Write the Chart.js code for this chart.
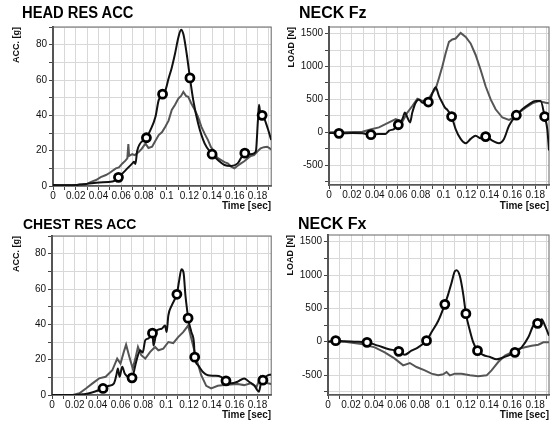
<!DOCTYPE html>
<html>
<head>
<meta charset="utf-8">
<script src="https://cdn.jsdelivr.net/npm/chart.js@4"></script>
<style>
body{margin:0;background:#fff;width:556px;height:425px;position:relative;overflow:hidden;font-family:"Liberation Sans",Arial,sans-serif}
canvas{position:absolute}
.ttl{position:absolute;font-weight:bold;font-size:16px;line-height:16px;color:#000;white-space:nowrap;transform-origin:0 50%}
</style>
</head>
<body>
<canvas id="head" width="278" height="212" style="left:0;top:0"></canvas>
<canvas id="neckFz" width="278" height="212" style="left:278px;top:0"></canvas>
<canvas id="chest" width="278" height="213" style="left:0;top:212px"></canvas>
<canvas id="neckFx" width="278" height="213" style="left:278px;top:212px"></canvas>
<div class="ttl" style="left:22px;top:5px;transform:scaleX(0.92)">HEAD RES ACC</div>
<div class="ttl" style="left:299px;top:5px">NECK Fz</div>
<div class="ttl" style="left:23px;top:216px;font-size:15px;transform:scaleX(0.93)">CHEST RES ACC</div>
<div class="ttl" style="left:298px;top:216px">NECK Fx</div>
<script>
// [time (s), value]
const headBlack = [[0,0.5],[0.012,0.4],[0.0206,0.5],[0.0235,0.8],[0.03,1.2],[0.0408,2.0],[0.0524,2.5],[0.0576,4.9],[0.064,9],[0.0698,12.8],[0.0713,13.7],[0.0725,12.5],[0.0741,20],[0.0822,27.3],[0.0857,31.6],[0.0901,39],[0.093,48.6],[0.0964,52],[0.0988,54],[0.1017,60.8],[0.1045,67],[0.1074,75],[0.1103,84],[0.1127,88.5],[0.1147,86],[0.1176,75],[0.1205,61.2],[0.1234,48.6],[0.1277,35.4],[0.1335,24],[0.140,18],[0.1451,14.7],[0.1509,11.9],[0.1567,11.3],[0.1625,12.8],[0.1688,18.6],[0.174,18],[0.1784,19.4],[0.1804,38],[0.1813,46],[0.1827,40],[0.184,40],[0.1885,33.5],[0.192,26]];
const headGray = [[0,0.5],[0.012,0.5],[0.0206,0.6],[0.0293,1.1],[0.034,2.5],[0.0379,3.4],[0.042,5.0],[0.0466,6.2],[0.05,7.5],[0.0553,10],[0.058,10.5],[0.0611,12.8],[0.0635,14.2],[0.0654,15.6],[0.0663,23.7],[0.067,17],[0.0698,18],[0.072,17.5],[0.0756,19.4],[0.078,21],[0.0814,24],[0.084,21.5],[0.0872,22.2],[0.09,25.5],[0.093,28.8],[0.096,30.5],[0.0988,33.5],[0.1017,37],[0.1045,43],[0.1074,46],[0.1103,49.5],[0.1127,51],[0.1147,53.3],[0.117,51],[0.119,50.5],[0.1215,47],[0.1248,43],[0.1277,39],[0.1306,33.5],[0.1335,29.5],[0.1364,26],[0.139,22],[0.1422,19.4],[0.1445,16],[0.148,14.7],[0.1509,13.5],[0.1538,12.8],[0.1567,11],[0.1596,10],[0.1625,11.5],[0.1654,12.8],[0.1683,14],[0.1712,15.6],[0.174,17],[0.1769,17.5],[0.1798,19.5],[0.1827,21.3],[0.1856,22],[0.1885,22.2],[0.192,20.7]];
const headMarks = [[0.0576,4.9],[0.0822,27.3],[0.0964,52],[0.1205,61.2],[0.140,18],[0.1688,18.6],[0.184,40]];

const neckFzBlack = [[0,-10],[0.0087,-15],[0.0204,-10],[0.0291,-15],[0.0366,-35],[0.0436,-25],[0.0494,-25],[0.0524,25],[0.0567,50],[0.0605,115],[0.064,200],[0.0663,300],[0.0684,225],[0.0707,150],[0.0727,300],[0.0756,450],[0.0785,500],[0.0814,450],[0.0867,460],[0.0931,685],[0.096,550],[0.0989,450],[0.1012,375],[0.1033,340],[0.107,240],[0.1105,50],[0.1149,-100],[0.1193,-165],[0.1236,-100],[0.128,-50],[0.1323,-90],[0.1367,-65],[0.1425,-125],[0.1483,-165],[0.1527,-100],[0.1571,100],[0.1635,260],[0.1687,350],[0.1745,425],[0.1803,475],[0.1847,475],[0.1882,240],[0.1905,50],[0.192,-275]];
const neckFzGray = [[0,0],[0.0145,0],[0.0291,10],[0.0378,50],[0.0436,75],[0.0524,150],[0.0582,200],[0.064,160],[0.0684,300],[0.0727,400],[0.0771,510],[0.0814,475],[0.0858,480],[0.0902,600],[0.0931,660],[0.096,825],[0.0989,1000],[0.1018,1200],[0.1047,1375],[0.1076,1410],[0.1105,1425],[0.1149,1510],[0.1193,1450],[0.1236,1350],[0.128,1175],[0.1323,950],[0.1367,700],[0.1411,500],[0.1454,350],[0.1513,225],[0.1571,190],[0.1614,225],[0.1658,300],[0.1716,375],[0.1774,440],[0.1832,475],[0.1891,450],[0.192,440]];
const neckFzMarks = [[0.0087,-15],[0.0366,-35],[0.0605,115],[0.0867,460],[0.107,240],[0.1367,-65],[0.1635,260],[0.1882,240]];

const chestBlack = [[0,0],[0.0211,0],[0.0268,0.4],[0.0326,1],[0.0447,3.7],[0.0499,5.2],[0.0543,6.6],[0.0563,11],[0.0577,15],[0.0592,10.3],[0.0615,16],[0.0638,12],[0.0701,9.7],[0.073,16.9],[0.0753,22.5],[0.0773,25.3],[0.0794,24],[0.0817,31],[0.0846,32],[0.088,35],[0.0889,28],[0.0918,36.5],[0.0961,37.5],[0.099,39.3],[0.1004,35.6],[0.1019,45],[0.1048,50.6],[0.1076,54.3],[0.1094,57],[0.1111,63.7],[0.1134,71.2],[0.1152,69.3],[0.1169,56.2],[0.1186,46.8],[0.1192,43.5],[0.1221,35.6],[0.1244,29],[0.125,21.4],[0.1279,16.9],[0.1322,13],[0.1365,11.2],[0.1423,10.9],[0.148,10.3],[0.1524,8],[0.1567,6.6],[0.1625,7.5],[0.1683,9.4],[0.1726,7.5],[0.1769,5.6],[0.1812,1.9],[0.1833,7.5],[0.1847,8.4],[0.1884,10.9],[0.192,11.6]];
const chestGray = [[0,0],[0.0182,0],[0.024,1],[0.0297,3.7],[0.0355,6.6],[0.0413,9.4],[0.047,10.3],[0.0528,14],[0.0571,20.6],[0.06,17.8],[0.0629,24.4],[0.0649,28.5],[0.0678,21.5],[0.0707,15],[0.073,20.6],[0.0753,27.2],[0.0782,22.5],[0.0817,20.6],[0.086,24.4],[0.0903,27.2],[0.0932,25.3],[0.0975,26.2],[0.1019,30],[0.1062,29.4],[0.1105,32.8],[0.1149,35.6],[0.1192,39.3],[0.1221,31.8],[0.1264,20.6],[0.1307,11.2],[0.1351,5.2],[0.1394,3.7],[0.1452,5.2],[0.1509,5.6],[0.1567,6],[0.1625,6.2],[0.1683,5.6],[0.174,6.6],[0.1792,4.7],[0.1827,10.3],[0.1855,7.1],[0.192,6.2]];
const chestMarks = [[0.0447,3.7],[0.0701,9.7],[0.088,35],[0.1094,57],[0.1192,43.5],[0.125,21.4],[0.1524,8],[0.1847,8.4]];

const neckFxBlack = [[0,0],[0.0067,15],[0.0145,5],[0.0232,0],[0.0339,-10],[0.0435,-60],[0.0522,-110],[0.0615,-145],[0.0667,-195],[0.0725,-135],[0.0783,-85],[0.0856,15],[0.0899,140],[0.0957,310],[0.1015,560],[0.1044,710],[0.1073,880],[0.1102,1055],[0.1117,1070],[0.1146,980],[0.1175,710],[0.1198,420],[0.1233,165],[0.1262,-10],[0.1299,-135],[0.1349,-200],[0.1407,-230],[0.1465,-265],[0.1508,-245],[0.1566,-210],[0.1624,-160],[0.1682,-85],[0.174,65],[0.1784,240],[0.1821,275],[0.1856,335],[0.1885,240],[0.192,90]];
const neckFxGray = [[0,0],[0.0145,0],[0.029,-35],[0.0406,-85],[0.0493,-160],[0.058,-255],[0.0653,-355],[0.0711,-320],[0.0769,-380],[0.0841,-430],[0.0899,-480],[0.0957,-505],[0.1001,-490],[0.103,-455],[0.1059,-505],[0.1102,-480],[0.116,-480],[0.1233,-505],[0.1305,-520],[0.1378,-505],[0.1421,-430],[0.1479,-305],[0.1537,-210],[0.1595,-160],[0.1653,-110],[0.1711,-85],[0.1769,-60],[0.1827,-45],[0.1871,-10],[0.192,-10]];
const neckFxMarks = [[0.0067,15],[0.0339,-10],[0.0615,-145],[0.0856,15],[0.1015,560],[0.1198,420],[0.1299,-135],[0.1624,-160],[0.1821,275]];

const FONT = '"Liberation Sans", Arial, sans-serif';
const pts = a => a.map(p => ({x: p[0], y: p[1]}));

// box round the plot area
const frame = {
    id: 'frame',
    beforeDatasetsDraw(chart) {
        const {ctx, chartArea: a} = chart;
        ctx.save();
        ctx.strokeStyle = '#666';
        ctx.lineWidth = 1;
        ctx.strokeRect(a.left, a.top, a.right - a.left, a.bottom - a.top);
        ctx.restore();
    }
};

function plot(id, o) {
    new Chart(document.getElementById(id), {
        type: 'line',
        data: {
            datasets: [
                {data: pts(o.marks), showLine: false, pointRadius: 4, pointBorderWidth: 2.8,
                 pointBorderColor: '#000', pointBackgroundColor: '#fff'},
                {data: pts(o.black), borderColor: '#111', borderWidth: 2, pointRadius: 0,
                 cubicInterpolationMode: 'monotone'},
                {data: pts(o.gray), borderColor: '#555', borderWidth: 2, pointRadius: 0}
            ]
        },
        options: {
            responsive: false,
            animation: false,
            devicePixelRatio: 1,
            layout: {padding: o.pad},
            plugins: {legend: {display: false}, tooltip: {enabled: false}},
            scales: {
                x: {
                    type: 'linear', min: 0, max: 0.192,
                    grid: {color: '#d8d8d8', tickColor: '#444', tickLength: 4},
                    border: {color: '#444', width: 1.5},
                    ticks: {
                        stepSize: 0.01, includeBounds: false, autoSkip: false, maxRotation: 0, padding: 0,
                        color: '#111', font: {family: FONT, size: 10},
                        callback: v => { const k = Math.round(v * 100); return k % 2 ? '' : String(k / 100); }
                    },
                    title: {display: true, text: 'Time [sec]', align: 'end', color: '#111',
                            font: {family: FONT, size: 10, weight: 'bold'}, padding: {top: 0, bottom: 0}},
                    afterFit: s => { s.height = o.xh; s.paddingLeft = 0; s.paddingRight = 0; }
                },
                y: {
                    min: o.min, max: o.max,
                    grid: {color: '#d8d8d8', tickColor: '#444', tickLength: 4},
                    border: {color: '#444', width: 2},
                    ticks: {
                        stepSize: o.step, includeBounds: false, autoSkip: false, padding: 2,
                        color: '#111', font: {family: FONT, size: 10},
                        callback: v => (v % o.every === 0 ? String(v) : '')
                    },
                    title: {display: true, text: o.ytitle, align: 'end', color: '#111',
                            font: {family: FONT, size: 9, weight: 'bold'}, padding: {top: o.tp, bottom: 0}},
                    afterFit: s => { s.width = o.yw; s.paddingTop = 0; s.paddingBottom = 0; }
                }
            }
        },
        plugins: [frame]
    });
}

plot('head', {black: headBlack, gray: headGray, marks: headMarks,
    min: 0, max: 90, step: 10, every: 20, ytitle: 'ACC. [g]',
    pad: {left: 0, top: 27, right: 4, bottom: 0}, yw: 53, xh: 26, tp: 11.6});
plot('neckFz', {black: neckFzBlack, gray: neckFzGray, marks: neckFzMarks,
    min: -800, max: 1600, step: 250, every: 500, ytitle: 'LOAD [N]',
    pad: {left: 0, top: 27, right: 7, bottom: 0}, yw: 51, xh: 27, tp: 8.3});
plot('chest', {black: chestBlack, gray: chestGray, marks: chestMarks,
    min: 0, max: 90, step: 10, every: 20, ytitle: 'ACC. [g]',
    pad: {left: 0, top: 24, right: 4, bottom: 4}, yw: 52, xh: 26, tp: 11.6});
plot('neckFx', {black: neckFxBlack, gray: neckFxGray, marks: neckFxMarks,
    min: -800, max: 1600, step: 250, every: 500, ytitle: 'LOAD [N]',
    pad: {left: 0, top: 23, right: 7, bottom: 4}, yw: 50, xh: 26, tp: 7.6});
</script>
</body>
</html>
